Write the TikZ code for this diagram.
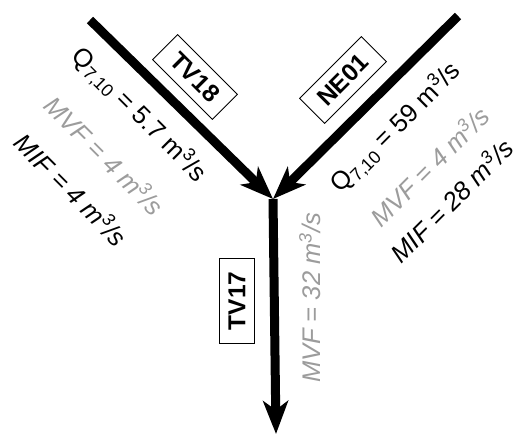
\documentclass[tikz,border=0pt]{standalone}
\usepackage{fontspec}
\setmainfont{Liberation Sans}
\usetikzlibrary{arrows.meta}
\definecolor{mvfgray}{HTML}{9C9C9C}
\begin{document}
\begin{tikzpicture}[x=1pt,y=-1pt,
  flow/.style={line width=9pt, -{Stealth[length=33pt,width=25pt,inset=9pt]}},
  gauge/.style={draw=black, line width=0.8pt, inner xsep=13pt, inner ysep=9pt,
    font=\fontsize{24.5}{28}\selectfont\bfseries},
  lab/.style={inner sep=0pt, font=\fontsize{25.5}{29}\selectfont},
  labit/.style={inner sep=0pt, font=\fontsize{25.5}{29}\selectfont\itshape},
  labgray/.style={labit, text=mvfgray}]

  % canvas
  \fill[white] (0,0) rectangle (520,435);
  \useasboundingbox (0,0) rectangle (520,435);

  % river reaches
  \coordinate (tv18in) at (90,20);
  \coordinate (ne01in) at (458,16);
  \coordinate (conf) at (273,199);
  \coordinate (tv17out) at (276,434);

  \draw[flow] (conf) -- (tv17out);
  \draw[flow] (tv18in) -- (conf);
  \draw[flow] (ne01in) -- (conf);

  % station boxes
  \node[gauge, rotate=-45] (tv18) at (195,77) {TV18};
  \node[gauge, rotate=45] (ne01) at (343,80) {NE01};
  \node[gauge, rotate=90] (tv17) at (237,301) {TV17};

  % TV18 flows
  \node[lab, rotate=-45] (q18) at (139,115) {Q\textsubscript{7,10} = 5.7 m\textsuperscript{3}/s};
  \node[labgray, rotate=-45] (mvf18) at (105,155) {MVF = 4 m\textsuperscript{3}/s};
  \node[labit, rotate=-45] (mif18) at (72,189) {MIF = 4 m\textsuperscript{3}/s};

  % NE01 flows
  \node[lab, rotate=45] (q01) at (396,128) {Q\textsubscript{7,10} = 59 m\textsuperscript{3}/s};
  \node[labgray, rotate=45] (mvf01) at (429,166) {MVF = 4 m\textsuperscript{3}/s};
  \node[labit, rotate=45] (mif01) at (451,200) {MIF = 28 m\textsuperscript{3}/s};

  % TV17 flow
  \node[labgray, rotate=90] (mvf17) at (310,298) {MVF = 32 m\textsuperscript{3}/s};
\end{tikzpicture}
\end{document}
